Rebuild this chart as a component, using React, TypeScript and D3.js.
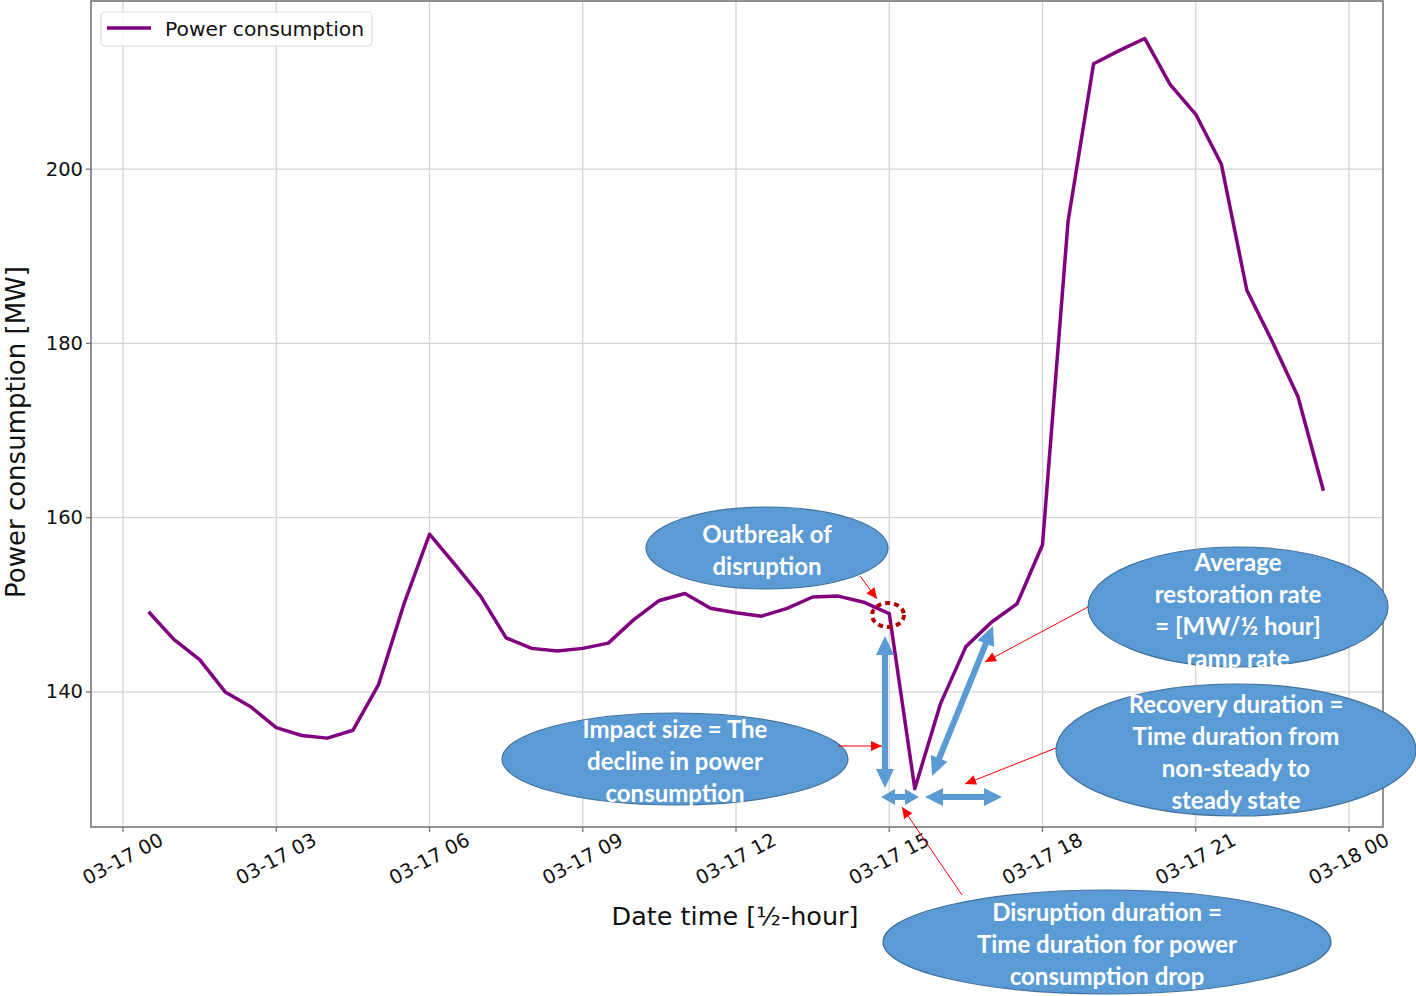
import React from 'react';
import * as d3 from 'd3';

// half-hourly readings, 00:30 .. 23:30 on 03-17
const hours = [
  0.5, 1, 1.5, 2, 2.5, 3, 3.5, 4, 4.5, 5, 5.5, 6, 6.5, 7, 7.5, 8, 8.5, 9, 9.5, 10, 10.5, 11, 11.5, 12,
  12.5, 13, 13.5, 14, 14.5, 15, 15.5, 16, 16.5, 17, 17.5, 18, 18.5, 19, 19.5, 20, 20.5, 21, 21.5, 22,
  22.5, 23, 23.5,
];
const power = [
  149.2, 146.0, 143.7, 140.0, 138.3, 135.9, 135.0, 134.7, 135.6, 140.8, 150.1, 158.1, 154.6, 151.0,
  146.2, 145.0, 144.7, 145.0, 145.6, 148.3, 150.5, 151.3, 149.6, 149.1, 148.7, 149.6, 150.9, 151.0,
  150.3, 149.0, 128.9, 138.6, 145.2, 148.0, 150.1, 156.9, 194.0, 212.1, 213.6, 215.0, 209.7, 206.3,
  200.6, 186.1, 180.2, 173.9, 163.1,
];
const xTickHours = [0, 3, 6, 9, 12, 15, 18, 21, 24];
const xTickLabels = ['03-17 00', '03-17 03', '03-17 06', '03-17 09', '03-17 12', '03-17 15', '03-17 18', '03-17 21', '03-18 00'];
const yTicks = [140, 160, 180, 200];

const W = 1416;
const H = 996;
const left = 91, right = 1383, top = 1, bottom = 827;

const blue = '#5b9bd5';
const blueEdge = '#41719c';
const FONT = 'DejaVu Sans, sans-serif';
const NOTE_FONT = 'Lato, "Open Sans", sans-serif';

const bubbles = [
  { cx: 767, cy: 548, rx: 121, ry: 41, lines: ['Outbreak of', 'disruption'], y0: 533 },
  { cx: 1238, cy: 607, rx: 150, ry: 60, lines: ['Average', 'restoration rate', '= [MW/½ hour]', 'ramp rate'], y0: 561 },
  { cx: 675, cy: 759, rx: 173, ry: 46, lines: ['Impact size = The', 'decline in power', 'consumption'], y0: 728 },
  { cx: 1236, cy: 750, rx: 180, ry: 66, lines: ['Recovery duration =', 'Time duration from', 'non-steady to', 'steady state'], y0: 703 },
  { cx: 1107, cy: 942, rx: 224, ry: 52, lines: ['Disruption duration =', 'Time duration for power', 'consumption drop'], y0: 911 },
];

const redArrows = [
  [860, 576, 877, 599],
  [838, 746, 882, 746],
  [1088, 607, 985, 662],
  [1056, 748, 965, 784],
  [962, 895, 902, 807],
];

// x1, y1, x2, y2, head length, head half-width
const blueArrows = [
  [885, 636, 885, 788, 19, 9],
  [881, 797, 919, 797, 14, 8],
  [925, 797, 1002, 797, 18, 9],
  [932, 776, 993, 626, 19, 9],
];

function headPoly(x1: number, y1: number, x2: number, y2: number, len: number, half: number) {
  const a = Math.atan2(y2 - y1, x2 - x1);
  const bx = x2 - len * Math.cos(a), by = y2 - len * Math.sin(a);
  const nx = -Math.sin(a), ny = Math.cos(a);
  return `${x2},${y2} ${bx + nx * half},${by + ny * half} ${bx - nx * half},${by - ny * half}`;
}

export default function App() {
  const x = d3.scaleLinear().domain([0, 24]).range([123, 1349]);
  const y = d3.scaleLinear().domain([124.5, 219.3]).range([bottom, top]);
  const line = d3.line<number>().x((_, i) => x(hours[i])).y((d) => y(d));

  return (
    <svg width={W} height={H} style={{ position: 'absolute', left: 0, top: 0, background: '#fff' }}>
      {/* grid */}
      {xTickHours.map((h) => (
        <line key={'gx' + h} x1={x(h)} x2={x(h)} y1={top} y2={bottom} stroke="#d4d4d4" strokeWidth={1.3} />
      ))}
      {yTicks.map((v) => (
        <line key={'gy' + v} x1={left} x2={right} y1={y(v)} y2={y(v)} stroke="#d4d4d4" strokeWidth={1.3} />
      ))}

      <path d={line(power) || ''} fill="none" stroke="#800080" strokeWidth={3.5} strokeLinejoin="round" />

      {/* spines */}
      <rect x={left} y={top} width={right - left} height={bottom - top} fill="none" stroke="#777" strokeWidth={1.6} />

      {/* ticks */}
      {xTickHours.map((h, i) => (
        <g key={'xt' + h}>
          <line x1={x(h)} x2={x(h)} y1={bottom} y2={bottom + 5} stroke="#777" strokeWidth={1.3} />
          <text
            transform={`translate(${x(h)},${859}) rotate(-28)`}
            textAnchor="middle"
            dominantBaseline="central"
            fontFamily={FONT}
            fontSize={19.5}
            fill="#111"
          >
            {xTickLabels[i]}
          </text>
        </g>
      ))}
      {yTicks.map((v) => (
        <g key={'yt' + v}>
          <line x1={left - 5} x2={left} y1={y(v)} y2={y(v)} stroke="#777" strokeWidth={1.3} />
          <text x={left - 8} y={y(v)} textAnchor="end" dominantBaseline="central" fontFamily={FONT} fontSize={19.5} fill="#111">
            {v}
          </text>
        </g>
      ))}

      <text x={735} y={916} textAnchor="middle" dominantBaseline="central" fontFamily={FONT} fontSize={25.5} fill="#111">
        Date time [½-hour]
      </text>
      <text
        transform={`translate(16,${432}) rotate(-90)`}
        textAnchor="middle"
        dominantBaseline="central"
        fontFamily={FONT}
        fontSize={26}
        fill="#111"
      >
        Power consumption [MW]
      </text>

      {/* legend */}
      <rect x={101} y={12} width={271} height={34} rx={4} fill="#fff" fillOpacity={0.85} stroke="#dcdcdc" strokeWidth={1.2} />
      <line x1={107} x2={151} y1={28} y2={28} stroke="#800080" strokeWidth={3.5} />
      <text x={165} y={29} dominantBaseline="central" fontFamily={FONT} fontSize={20.3} fill="#111">
        Power consumption
      </text>

      {/* annotations */}
      <ellipse cx={888} cy={615} rx={16} ry={12} fill="none" stroke="#b00000" strokeWidth={4} strokeDasharray="5 4" />

      {blueArrows.map(([x1, y1, x2, y2, hl, hw], i) => {
        const a = Math.atan2(y2 - y1, x2 - x1);
        const L = hl - 2;
        return (
          <g key={'ba' + i}>
            <line
              x1={x1 + L * Math.cos(a)}
              y1={y1 + L * Math.sin(a)}
              x2={x2 - L * Math.cos(a)}
              y2={y2 - L * Math.sin(a)}
              stroke={blue}
              strokeWidth={6}
            />
            <polygon points={headPoly(x1, y1, x2, y2, hl, hw)} fill={blue} />
            <polygon points={headPoly(x2, y2, x1, y1, hl, hw)} fill={blue} />
          </g>
        );
      })}

      {bubbles.map((b, i) => (
        <g key={'b' + i}>
          <ellipse cx={b.cx} cy={b.cy} rx={b.rx} ry={b.ry} fill={blue} stroke={blueEdge} strokeWidth={1.2} />
          {b.lines.map((t, j) => (
            <text
              key={j}
              x={b.cx}
              y={b.y0 + j * 32}
              textAnchor="middle"
              dominantBaseline="central"
              fontFamily={NOTE_FONT}
              fontWeight="bold"
              fontSize={24}
              fill="#fff"
            >
              {t}
            </text>
          ))}
        </g>
      ))}

      {redArrows.map(([x1, y1, x2, y2], i) => (
        <g key={'ra' + i}>
          <line x1={x1} y1={y1} x2={x2} y2={y2} stroke="#ff0000" strokeWidth={1} />
          <polygon points={headPoly(x1, y1, x2, y2, 11, 5)} fill="#ff0000" />
        </g>
      ))}
    </svg>
  );
}
